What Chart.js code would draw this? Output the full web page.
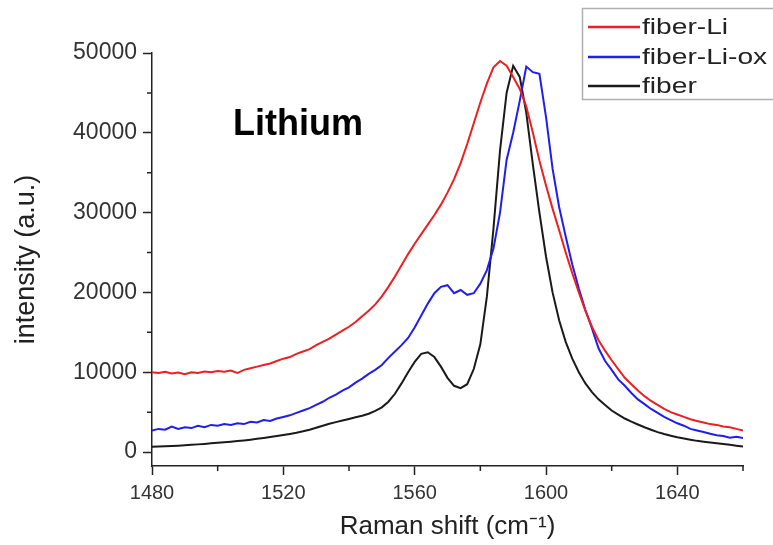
<!DOCTYPE html>
<html>
<head>
<meta charset="utf-8">
<script src="https://cdn.jsdelivr.net/npm/chart.js@4.4.1/dist/chart.umd.min.js"></script>
<style>
  html, body { margin: 0; padding: 0; background: #fff; }
  #canvas { display: block; }
</style>
</head>
<body>
<canvas id="canvas" width="773" height="545"></canvas>
<script>
// Raman shift (cm-1), sampled every 2 units
var ramanShift = [
    1480, 1482, 1484, 1486, 1488, 1490, 1492, 1494, 1496, 1498,
    1500, 1502, 1504, 1506, 1508, 1510, 1512, 1514, 1516, 1518,
    1520, 1522, 1524, 1526, 1528, 1530, 1532, 1534, 1536, 1538,
    1540, 1542, 1544, 1546, 1548, 1550, 1552, 1554, 1556, 1558,
    1560, 1562, 1564, 1566, 1568, 1570, 1572, 1574, 1576, 1578,
    1580, 1582, 1584, 1586, 1588, 1590, 1592, 1594, 1596, 1598,
    1600, 1602, 1604, 1606, 1608, 1610, 1612, 1614, 1616, 1618,
    1620, 1622, 1624, 1626, 1628, 1630, 1632, 1634, 1636, 1638,
    1640, 1642, 1644, 1646, 1648, 1650, 1652, 1654, 1656, 1658,
    1660
];

var fiberLi = [
    10000, 9900, 10050, 9850, 9950, 9750, 10000, 9900, 10100, 10000,
    10150, 10050, 10200, 9900, 10300, 10500, 10700, 10900, 11100, 11400,
    11700, 11900, 12300, 12600, 12900, 13400, 13800, 14200, 14700, 15200,
    15700, 16300, 17000, 17700, 18500, 19500, 20700, 22000, 23400, 24800,
    26100, 27300, 28500, 29700, 31000, 32500, 34200, 36200, 38600, 41200,
    43800, 46200, 48200, 49000, 48400, 47000, 45500, 43300, 40000, 36500,
    33400, 30500, 27800, 25000, 22400, 20000, 17700, 15700, 14000, 12700,
    11500, 10400, 9300, 8500, 7700, 7000, 6400, 5900, 5400, 5000,
    4700, 4400, 4100, 3900, 3700, 3500, 3400, 3200, 3100, 2900,
    2700
];

var fiberLiOx = [
    2700, 2900, 2800, 3200, 2900, 3100, 3000, 3300, 3100, 3400,
    3300, 3500, 3400, 3600, 3500, 3800, 3700, 4000, 3900, 4200,
    4400, 4600, 4900, 5200, 5500, 5900, 6300, 6800, 7200, 7700,
    8100, 8700, 9200, 9800, 10300, 10900, 11800, 12600, 13400, 14300,
    15600, 17100, 18600, 19900, 20700, 20900, 19900, 20300, 19700, 19900,
    21100, 22800, 25500, 30000, 36600, 40000, 44000, 48300, 47600, 47400,
    42000, 35500, 30700, 27000, 23500, 20500, 17800, 15500, 13000, 11400,
    10300, 9100, 8300, 7400, 6600, 6000, 5400, 4900, 4400, 4000,
    3600, 3300, 2900, 2700, 2500, 2300, 2100, 2000, 1800, 1900,
    1750
];

var fiber = [
    650, 680, 720, 760, 800, 850, 900, 960, 1020, 1090,
    1160, 1230, 1300, 1380, 1460, 1550, 1650, 1760, 1880, 2000,
    2130, 2270, 2420, 2600, 2800, 3050, 3300, 3550, 3750, 3950,
    4150, 4350, 4550, 4800, 5150, 5600, 6300, 7300, 8600, 10000,
    11300, 12300, 12500, 11900, 10700, 9300, 8300, 8000, 8500, 10400,
    13500, 19500, 28000, 37800, 45000, 48400, 47000, 42500, 36000, 30000,
    24500, 20000, 16500, 13800, 11700, 10000, 8600, 7500, 6600, 5900,
    5200, 4700, 4200, 3800, 3450, 3100, 2800, 2500, 2250, 2050,
    1850, 1700, 1550, 1400, 1300, 1200, 1100, 1000, 900, 800,
    700
];

var seriesNames = ['fiber-Li', 'fiber-Li-ox', 'fiber'];
var seriesColors = ['rgb(240,30,30)', 'rgb(30,30,240)', '#1a1a1a'];

var xMajorTicks = [1480, 1520, 1560, 1600, 1640];
var xMinorTicks = [1500, 1540, 1580, 1620, 1660];
var yMajorTicks = [0, 10000, 20000, 30000, 40000, 50000];
var yMinorTicks = [5000, 15000, 25000, 35000, 45000];

var FONT = "'Liberation Sans', Arial, sans-serif";

function toPoints(values) {
    return values.map(function (v, i) { return { x: ramanShift[i], y: v }; });
}

document.addEventListener('DOMContentLoaded', function () {
    var canvas = document.getElementById('canvas');

    // minor ticks, the "Lithium" label and the boxed legend
    var extras = {
        id: 'extras',
        beforeDraw: function (chart) {
            var ctx = chart.ctx;
            ctx.save();
            ctx.fillStyle = '#fff';
            ctx.fillRect(0, 0, chart.width, chart.height);
            ctx.restore();
        },
        afterDraw: function (chart) {
            var ctx = chart.ctx;
            var xs = chart.scales.x, ys = chart.scales.y;
            var area = chart.chartArea;
            ctx.save();
            ctx.strokeStyle = '#222';
            ctx.lineWidth = 1.5;
            ctx.beginPath();
            yMinorTicks.forEach(function (v) {
                var py = ys.getPixelForValue(v);
                ctx.moveTo(area.left - 5, py);
                ctx.lineTo(area.left, py);
            });
            xMinorTicks.forEach(function (v) {
                var px = xs.getPixelForValue(v);
                ctx.moveTo(px, area.bottom);
                ctx.lineTo(px, area.bottom + 5);
            });
            ctx.stroke();

            // title inside plot
            ctx.fillStyle = '#000';
            ctx.font = 'bold 36px ' + FONT;
            ctx.textBaseline = 'alphabetic';
            ctx.textAlign = 'left';
            ctx.fillText('Lithium', 233, 135);

            // legend box
            ctx.strokeStyle = '#b0b0b0';
            ctx.lineWidth = 1.5;
            ctx.strokeRect(582.5, 8.5, 200, 91);
            var rows = [27, 57, 86];
            seriesNames.forEach(function (name, i) {
                ctx.strokeStyle = seriesColors[i];
                ctx.lineWidth = 2.5;
                ctx.beginPath();
                ctx.moveTo(588, rows[i]);
                ctx.lineTo(640, rows[i]);
                ctx.stroke();
                ctx.save();
                ctx.translate(642, rows[i]);
                ctx.scale(1.28, 1);
                ctx.fillStyle = '#222';
                ctx.font = '22px ' + FONT;
                ctx.textBaseline = 'middle';
                ctx.fillText(name, 0, 1);
                ctx.restore();
            });
            ctx.restore();
        }
    };

    var config = {
        type: 'line',
        data: {
            datasets: [fiberLi, fiberLiOx, fiber].map(function (vals, i) {
                return {
                    label: seriesNames[i],
                    data: toPoints(vals),
                    borderColor: seriesColors[i],
                    borderWidth: 2,
                    pointRadius: 0,
                    tension: 0,
                    fill: false
                };
            })
        },
        options: {
            responsive: false,
            animation: false,
            layout: { padding: { left: 0, right: 30, top: 53, bottom: 0 } },
            plugins: {
                legend: { display: false },
                tooltip: { enabled: false }
            },
            scales: {
                x: {
                    type: 'linear',
                    min: 1480,
                    max: 1660,
                    afterBuildTicks: function (scale) {
                        scale.ticks = xMajorTicks.map(function (v) { return { value: v }; });
                    },
                    afterFit: function (scale) { scale.height = 79; },
                    grid: {
                        drawOnChartArea: false,
                        drawTicks: true,
                        tickLength: 9,
                        tickWidth: 1.5,
                        tickColor: '#222'
                    },
                    border: { display: true, color: '#222', width: 1.5 },
                    ticks: {
                        padding: 6,
                        maxRotation: 0,
                        color: '#333',
                        font: { family: FONT, size: 20 },
                        callback: function (v) { return String(v); }
                    },
                    title: {
                        display: true,
                        text: 'Raman shift (cm\u207B\u00B9)',
                        color: '#222',
                        font: { family: FONT, size: 26 },
                        padding: { top: 0, bottom: 3 }
                    }
                },
                y: {
                    min: -1750,
                    max: 50000,
                    afterBuildTicks: function (scale) {
                        scale.ticks = yMajorTicks.map(function (v) { return { value: v }; });
                    },
                    afterFit: function (scale) { scale.width = 152; },
                    grid: {
                        drawOnChartArea: false,
                        drawTicks: true,
                        tickLength: 9,
                        tickWidth: 1.5,
                        tickColor: '#222'
                    },
                    border: { display: true, color: '#222', width: 1.5 },
                    ticks: {
                        padding: 6,
                        color: '#333',
                        font: { family: FONT, size: 23 },
                        callback: function (v) { return String(v); }
                    },
                    title: {
                        display: true,
                        text: 'intensity (a.u.)',
                        color: '#222',
                        font: { family: FONT, size: 27 },
                        padding: { top: 10, bottom: 0 }
                    }
                }
            }
        },
        plugins: [extras]
    };

    window.chart = new Chart(canvas, config);
});
</script>
</body>
</html>
